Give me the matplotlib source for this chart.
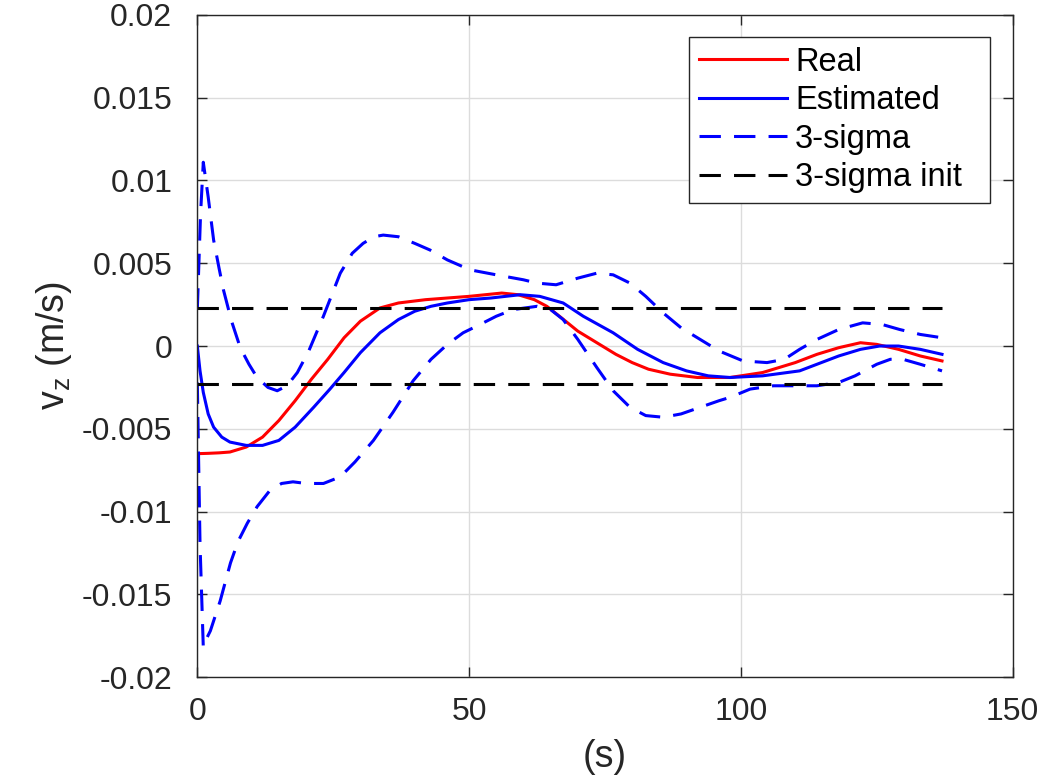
import numpy as np
import matplotlib
matplotlib.use("Agg")
import matplotlib.pyplot as plt

plt.rcParams['font.family'] = ['Liberation Sans', 'DejaVu Sans']
plt.rcParams['mathtext.fontset'] = 'custom'
plt.rcParams['mathtext.rm'] = 'Liberation Sans'
plt.rcParams['mathtext.it'] = 'Liberation Sans'

# real velocity
t_real = [0, 2, 4, 6, 9, 12, 15, 18, 21, 24, 27, 30, 33.6, 37, 42, 46, 50, 53, 56, 59,
          62, 64.3, 67, 70, 73.5, 77, 80, 83, 87, 92, 98, 104, 110, 114, 118, 122, 125,
          129, 133, 137]
v_real = [-0.0065, -0.00648, -0.00645, -0.0064, -0.0061, -0.0055, -0.0045, -0.0033, -0.002,
          -0.0008, 0.0005, 0.0015, 0.0023, 0.0026, 0.0028, 0.0029, 0.003, 0.0031, 0.0032,
          0.0031, 0.0028, 0.0024, 0.0017, 0.0009, 0.0002, -0.0005, -0.001, -0.0014,
          -0.0017, -0.0019, -0.0019, -0.0016, -0.001, -0.0005, -0.0001, 0.0002, 0.0001,
          -0.0002, -0.0006, -0.0009]

# estimated velocity
t_est = [0, 0.5, 1.1, 2, 3, 4.5, 6, 9, 12, 15, 18, 21.4, 24.4, 27, 30, 33.6, 37, 40,
         43, 46, 50, 54, 59.4, 63, 67.3, 71, 76.5, 81, 85.7, 90, 94, 98, 104, 110.8, 114,
         118, 122, 125.5, 129, 133, 137]
v_est = [0, -0.0015, -0.0028, -0.0041, -0.0049, -0.0055, -0.0058, -0.006, -0.006, -0.0057,
         -0.0049, -0.0037, -0.0026, -0.0016, -0.0004, 0.0008, 0.0016, 0.0021, 0.0024,
         0.0026, 0.0028, 0.0029, 0.0031, 0.003, 0.0026, 0.0018, 0.0008, -0.0002, -0.001,
         -0.0015, -0.0018, -0.0019, -0.0018, -0.0015, -0.0011, -0.0006, -0.0002, 0.0,
         0.0, -0.0002, -0.0005]

# 3-sigma upper bound
t_up = [0, 0.6, 1.1, 2, 3, 4, 4.8, 6.3, 7.9, 9.5, 11, 13, 14.7, 16.5, 18.4, 20.5, 23.2,
        26.3, 28.5, 30.5, 32.5, 34.2, 37, 40, 42.8, 46, 50.2, 55, 60, 62.5, 66, 70, 73.5,
        76.5, 79.6, 82.5, 85.7, 89, 92.5, 96, 100.4, 104.8, 108, 110.8, 114, 118, 122.4,
        126, 129.2, 133, 137]
v_up = [0.0022, 0.008, 0.0111, 0.009, 0.0064, 0.0047, 0.0034, 0.0015, -0.0001, -0.0011,
        -0.0019, -0.0025, -0.0027, -0.0024, -0.0016, -0.0003, 0.0018, 0.0044, 0.0056,
        0.0062, 0.0066, 0.0067, 0.0066, 0.0062, 0.0058, 0.0052, 0.0046, 0.0043, 0.004,
        0.0038, 0.0037, 0.0041, 0.0044, 0.0043, 0.0038, 0.003, 0.002, 0.0011, 0.0004,
        -0.0003, -0.0009, -0.001, -0.0008, -0.0002, 0.0004, 0.001, 0.0014, 0.0013,
        0.001, 0.0007, 0.0005]

# 3-sigma lower bound
t_lo = [0, 0.5, 1.1, 1.5, 2.4, 3.2, 4.2, 6.1, 7.5, 9.2, 11, 13.4, 15.5, 17.6, 20, 23.2,
        26.3, 29, 32.4, 36, 39.7, 43, 46, 48.9, 52, 55, 58.1, 62.5, 65, 67.3, 70, 73.5,
        76.5, 79.6, 82.5, 85.7, 89, 92.5, 96, 98, 101.7, 106, 110.8, 114, 118, 121, 125,
        127.5, 129.8, 133, 137]
v_lo = [-0.0022, -0.012, -0.0182, -0.0178, -0.0172, -0.0164, -0.0154, -0.0131, -0.0118,
        -0.0107, -0.0097, -0.0087, -0.0083, -0.0082, -0.0083, -0.0083, -0.0079, -0.007,
        -0.0057, -0.004, -0.0021, -0.0008, 0.0001, 0.0008, 0.0013, 0.0018, 0.0022,
        0.0024, 0.0022, 0.0016, 0.0004, -0.0013, -0.0027, -0.0037, -0.0042, -0.0043,
        -0.0041, -0.0037, -0.0033, -0.0031, -0.0026, -0.0024, -0.0024, -0.0024, -0.0022,
        -0.0018, -0.0011, -0.0008, -0.0008, -0.0011, -0.0015]

# initial 3-sigma level
t_init = [0, 137]
sigma_init = 0.0023

fig = plt.figure(figsize=(10.44, 7.82), dpi=100)
ax = fig.add_axes([0.189, 0.134, 0.781, 0.847])

lw = 2.2
dash = (0, (7.0, 4.3))
ax.plot(t_real, v_real, color='red', lw=lw, label='Real')
ax.plot(t_est, v_est, color='blue', lw=lw, label='Estimated')
ax.plot(t_up, v_up, color='blue', lw=lw, ls=dash, label='3-sigma')
ax.plot(t_lo, v_lo, color='blue', lw=lw, ls=dash)
# trailing spaces give the MATLAB-like right margin in the legend box
ax.plot(t_init, [sigma_init, sigma_init], color='black', lw=lw, ls=dash, label='3-sigma init  ')
ax.plot(t_init, [-sigma_init, -sigma_init], color='black', lw=lw, ls=dash)

ax.set_xlim(0, 150)
ax.set_ylim(-0.02, 0.02)
ax.set_xticks([0, 50, 100, 150])
ax.set_yticks(np.arange(-0.02, 0.0201, 0.005))
ax.set_yticklabels(['-0.02', '-0.015', '-0.01', '-0.005', '0', '0.005', '0.01', '0.015', '0.02'])
ax.grid(True, color='#dcdcdc', lw=1)
ax.set_axisbelow(True)
ax.tick_params(direction='in', length=7, width=1, top=True, right=True,
               labelsize=23, colors='#262626')
ax.tick_params(axis='x', pad=14)
ax.tick_params(axis='y', pad=18)
for s in ax.spines.values():
    s.set_color('#262626')
    s.set_linewidth(1)

ax.set_xlabel('(s)', fontsize=27, color='#262626', labelpad=9)
ax.set_ylabel(r'v$_{\rm z}$ (m/s)', fontsize=27, color='#262626', labelpad=6)

leg = ax.legend(loc='upper right', bbox_to_anchor=(0.972, 0.967), fontsize=23.5,
                handlelength=2.7, handletextpad=0.25, borderpad=0.3, labelspacing=0.23,
                fancybox=False, framealpha=1, edgecolor='#262626', borderaxespad=0)
leg.get_frame().set_linewidth(1)

fig.savefig('out.png', dpi=100)
